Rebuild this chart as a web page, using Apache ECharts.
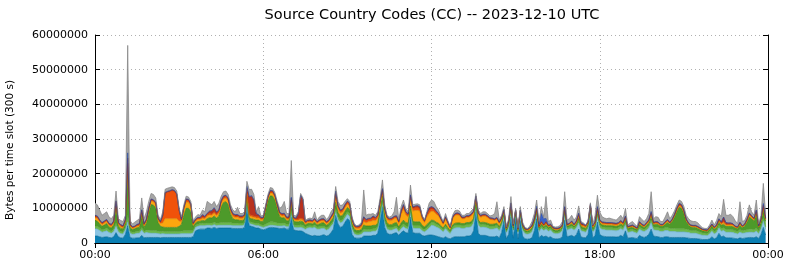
<!DOCTYPE html>
<html><head><meta charset="utf-8">
<script src="https://cdn.jsdelivr.net/npm/echarts@6/dist/echarts.min.js"></script>
<style>html,body{margin:0;padding:0;background:#fff}#chart{width:790px;height:267px}</style>
</head><body><div id="chart"></div>
<script>
// time slots of 5 minutes (300 s), values in millions of bytes per slot
const slotMinutes = 5;
const slotsPerTick = 72; // 6 hours
const yTickStep = 10000000;
const yMax = 60000000;

const layerNames = ['CC 1','CC 2','CC 3','CC 4','CC 5','CC 6','CC 7','CC 8','Other'];
const layerColors = ['#0b7fb3','#8cc5e3','#6cb84a','#4d9a2a','#fca60f','#f0520a','#b8321f','#3a62c8','#a6a6a6'];
const layerEdges  = ['#066a96','#6aaed0','#549c36','#3b7f1e','#d98a00','#c84000','#922415','#2a4aa0','#808080'];

const ccDarkBlue = [
2.0,2.0,1.8,1.6,1.7,1.8,1.6,1.5,1.8,3.0,1.8,1.5, 1.4,2.5,5.0,1.6,1.4,1.4,1.5,1.5,2.2,1.5,1.6,1.6,
1.6,1.6,1.6,1.6,1.5,1.6,1.6,1.6,1.6,1.6,1.6,1.6, 1.6,1.6,1.6,1.6,1.6,1.6,1.8,3.5,3.8,4.0,4.0,4.0,
4.3,4.3,4.2,4.5,4.2,4.3,4.3,4.3,4.3,4.3,4.3,4.2, 4.2,4.2,4.2,4.2,4.5,11.0,5.0,4.8,4.6,4.3,4.3,4.0,
3.8,4.0,4.3,4.5,4.5,4.4,4.3,4.2,4.2,4.3,4.0,4.0, 7.5,3.8,3.6,3.5,3.5,3.3,2.8,2.5,2.2,2.0,2.2,2.0,
2.0,2.2,2.4,2.0,2.2,3.0,4.0,8.0,5.5,4.5,4.8,6.0, 7.0,6.5,2.5,1.5,1.4,1.4,1.5,2.0,2.0,2.0,2.0,2.2,
2.2,2.8,6.5,10.5,4.5,2.8,2.5,2.5,2.8,3.0,2.2,3.0, 3.5,3.0,2.8,7.5,3.0,2.8,2.8,2.8,2.2,2.0,2.2,2.3,
2.3,2.2,2.0,1.8,1.6,1.4,1.8,1.4,1.2,1.6,1.8,1.8, 1.8,1.8,1.8,2.0,2.0,2.2,3.5,9.0,2.8,2.2,2.2,2.2,
2.0,1.8,1.8,1.8,2.0,1.5,3.0,6.5,1.2,2.5,7.5,1.4, 7.0,1.2,6.5,2.0,1.2,1.1,1.2,1.5,3.5,7.0,1.5,2.2,
1.8,2.0,1.6,1.8,1.3,1.2,1.2,1.3,1.8,6.6,1.8,2.0, 2.2,1.8,2.4,4.0,1.7,1.6,1.5,2.5,7.6,1.5,2.2,6.0,
2.5,2.0,1.9,1.8,1.8,1.8,1.8,1.7,1.8,2.2,1.8,3.5, 1.4,1.5,1.6,1.4,1.3,2.2,1.8,1.6,1.9,2.5,4.0,2.0,
1.9,1.8,1.6,1.6,1.8,1.8,1.6,1.6,1.6,1.6,1.6,1.6, 1.6,1.5,1.4,1.3,1.3,1.3,1.2,1.1,1.0,1.0,1.0,1.2,
1.8,1.2,1.5,2.8,1.8,2.0,1.5,1.5,1.5,1.4,1.3,1.2, 1.5,1.3,1.4,1.5,1.6,1.6,1.5,1.8,1.3,2.5,4.5,2.3];

const ccLightBlue = [
2.2,2.0,1.8,1.5,1.6,1.7,1.4,1.3,1.5,1.8,1.4,1.2, 1.2,1.3,1.0,1.2,1.1,1.2,1.3,1.3,1.5,1.3,1.4,1.3,
1.2,1.2,1.2,1.1,1.1,1.1,1.0,1.0,1.0,1.0,1.0,1.0, 1.0,1.1,1.1,1.1,1.1,1.1,1.1,1.0,1.0,1.0,1.0,1.0,
0.8,0.8,0.8,0.8,0.8,0.8,0.8,0.8,0.8,0.8,0.8,0.8, 0.8,0.8,0.8,0.8,0.8,0.5,0.6,0.6,0.6,0.7,0.7,0.7,
0.7,0.7,0.6,0.6,0.6,0.6,0.6,0.7,0.7,0.7,0.7,0.7, 0.7,0.8,0.8,0.9,1.0,1.0,1.1,1.8,2.2,2.3,2.3,2.0,
2.0,2.0,1.8,1.7,1.8,1.8,1.6,1.0,1.2,1.3,1.3,1.2, 1.2,1.2,1.5,1.0,0.9,0.9,1.0,1.2,1.2,1.2,1.2,1.2,
1.2,1.2,1.2,1.0,1.2,1.2,1.2,1.2,1.2,1.2,1.0,1.1, 1.2,1.2,1.2,1.2,1.3,1.4,1.4,1.4,1.3,1.2,1.5,2.0,
2.8,2.8,2.6,2.5,2.2,1.8,2.3,1.9,1.5,2.3,2.5,2.6, 2.6,2.4,2.4,2.5,2.5,2.5,2.2,1.2,2.4,2.3,2.4,2.3,
2.3,2.2,2.2,2.3,2.3,2.0,1.8,1.0,1.6,1.8,1.5,1.8, 1.0,1.5,1.2,1.6,1.5,1.4,1.5,1.7,1.6,1.2,1.7,2.0,
1.8,2.0,1.8,1.9,1.6,1.5,1.5,1.6,1.8,1.5,1.9,2.0, 2.0,1.9,1.9,1.8,1.8,1.7,1.6,1.6,1.2,1.6,1.8,1.5,
1.9,1.9,1.9,1.9,1.9,1.9,1.8,1.8,1.9,1.9,1.9,1.8, 1.6,1.7,1.7,1.6,1.5,1.8,1.7,1.7,1.8,1.8,1.9,1.8,
1.8,1.8,1.7,1.7,1.8,1.8,1.7,1.7,1.7,1.6,1.6,1.6, 1.6,1.6,1.6,1.5,1.5,1.5,1.4,1.3,1.2,1.2,1.1,1.4,
1.6,1.4,1.5,1.5,1.6,1.6,1.6,1.6,1.6,1.6,1.5,1.4, 1.6,1.5,1.5,1.5,1.5,1.5,1.5,1.6,1.4,1.5,1.8,1.6];

const ccLightGreen = [
0.8,0.8,0.7,0.7,0.7,0.8,0.7,0.6,0.7,1.0,0.7,0.6, 0.6,0.7,2.0,0.6,0.6,0.6,0.6,0.6,0.8,0.6,0.7,0.8,
0.8,0.8,0.8,0.7,0.7,0.7,0.7,0.7,0.7,0.7,0.7,0.7, 0.7,0.7,0.8,0.8,0.8,0.8,0.7,0.6,0.6,0.6,0.7,0.6,
0.7,0.7,0.7,0.7,0.7,0.7,0.8,0.8,0.8,0.8,0.8,0.7, 0.7,0.7,0.6,0.6,0.6,0.5,0.6,0.6,0.6,0.6,0.6,0.6,
0.6,0.8,0.9,1.0,1.0,1.0,0.9,0.8,0.8,0.8,0.7,0.7, 1.0,0.7,0.7,0.7,0.8,0.8,0.6,0.6,0.6,0.6,0.7,0.6,
0.7,0.7,0.7,0.6,0.7,0.7,0.7,0.8,0.8,0.7,0.7,0.8, 0.8,0.8,0.7,0.6,0.6,0.6,0.6,0.8,0.7,0.7,0.7,0.7,
0.7,0.7,0.8,0.8,0.8,0.7,0.7,0.7,0.7,0.7,0.6,0.7, 0.8,0.7,0.7,0.8,0.8,0.8,0.8,0.8,0.7,0.6,0.7,0.8,
0.9,0.9,0.8,0.8,0.7,0.6,0.7,0.6,0.5,0.7,0.8,0.8, 0.8,0.8,0.8,0.8,0.8,0.8,0.8,0.8,0.8,0.8,0.8,0.8,
0.8,0.8,0.8,0.8,0.8,0.7,0.7,0.6,0.5,0.6,0.7,0.6, 0.5,0.5,0.6,0.6,0.5,0.5,0.5,0.6,0.6,0.6,0.6,0.7,
0.6,0.7,0.6,0.6,0.5,0.5,0.5,0.5,0.6,0.8,0.6,0.6, 0.7,0.6,0.6,0.7,0.6,0.6,0.5,0.6,0.8,0.5,0.6,0.8,
0.7,0.7,0.7,0.7,0.7,0.7,0.7,0.7,0.7,0.7,0.7,0.7, 0.6,0.6,0.6,0.6,0.5,0.7,0.7,0.6,0.7,0.7,0.8,0.7,
0.9,0.9,0.8,0.8,0.9,0.9,0.9,0.9,0.9,0.9,0.9,0.9, 0.9,0.9,0.8,0.8,0.8,0.8,0.8,0.7,0.7,0.6,0.6,0.7,
0.7,0.7,0.7,0.8,0.8,0.8,0.8,0.8,0.8,0.8,0.7,0.7, 0.8,0.7,0.8,0.8,0.9,0.9,0.8,0.9,0.7,0.8,1.0,0.8];

const ccDarkGreen = [
1.5,1.5,1.2,1.0,1.2,1.3,0.9,0.9,1.2,4.5,1.0,0.9, 0.8,1.2,12.0,1.0,0.8,0.9,1.0,1.1,3.5,1.1,2.0,5.0,
7.5,7.3,6.5,2.5,1.5,1.2,1.2,1.2,1.2,1.2,1.2,1.2, 1.5,2.0,4.5,6.5,6.5,5.6,1.0,0.7,0.8,0.7,0.8,0.8,
1.2,1.5,1.5,1.8,1.5,2.0,4.5,5.8,6.0,5.2,2.5,1.3, 1.0,1.0,0.9,0.9,0.9,1.2,1.0,1.0,1.0,1.0,1.0,0.9,
1.2,3.8,6.3,7.5,7.4,6.3,4.2,2.0,1.5,1.5,1.0,1.0, 2.0,1.0,1.0,1.0,1.0,1.0,0.7,0.7,0.7,0.6,0.8,0.6,
0.8,0.9,0.9,0.8,0.8,0.9,1.0,2.0,1.3,1.2,1.2,1.2, 1.2,1.2,0.9,0.8,0.7,0.7,0.8,1.2,1.0,1.0,1.0,1.0,
1.0,1.0,1.2,1.2,1.1,1.0,0.9,0.9,1.0,1.0,0.8,1.0, 1.1,1.0,1.0,1.2,1.1,1.1,1.1,1.1,0.9,0.8,0.9,0.9,
0.6,0.6,0.6,0.6,0.5,0.5,0.6,0.5,0.4,0.6,0.6,0.6, 0.6,0.6,0.6,0.6,0.6,0.6,0.6,0.6,0.6,0.6,0.6,0.6,
0.6,0.6,0.6,0.6,0.6,0.5,0.5,0.5,0.4,0.5,0.6,0.5, 0.4,0.4,0.5,0.5,0.4,0.4,0.5,0.5,0.5,0.5,0.5,0.5,
0.5,0.6,0.5,0.5,0.5,0.5,0.5,0.5,0.5,0.7,0.5,0.5, 0.6,0.5,0.6,0.8,0.6,0.6,0.6,0.6,0.7,0.6,0.6,0.8,
0.7,0.6,0.6,0.6,0.6,0.6,0.6,0.6,0.6,0.7,0.6,0.8, 0.6,0.6,0.6,0.6,0.5,0.7,0.6,0.6,0.7,0.8,1.0,0.7,
0.8,0.8,0.7,0.7,0.9,1.5,1.2,2.0,3.3,5.0,6.2,5.9, 4.5,2.2,1.4,1.0,0.9,0.9,0.8,0.7,0.6,0.6,0.6,0.7,
0.8,0.7,0.8,0.9,0.9,1.0,0.9,0.9,0.9,0.9,0.8,0.8, 1.2,0.9,1.2,2.2,3.5,3.0,2.5,4.0,1.0,1.3,2.2,1.6];

const ccAmber = [
0.8,0.8,0.6,0.5,0.6,0.6,0.5,0.5,0.6,1.0,0.5,0.5, 0.4,0.5,2.0,0.5,0.4,0.4,0.4,0.5,0.8,0.5,0.6,0.8,
1.0,1.0,1.0,0.8,0.8,1.2,2.5,2.5,2.5,2.5,2.5,2.5, 1.5,0.8,1.5,1.8,1.7,1.5,0.6,0.5,0.6,0.5,0.6,0.6,
0.8,0.8,0.8,0.8,0.7,0.8,1.0,1.0,1.0,1.0,0.8,0.7, 0.7,0.7,0.6,0.6,0.6,1.0,0.6,0.6,0.6,0.6,0.6,0.5,
0.5,0.6,0.7,0.8,0.8,0.8,0.7,0.6,0.6,0.6,0.5,0.5, 0.8,0.5,0.5,0.5,0.5,0.5,0.4,0.4,0.4,0.4,0.5,0.4,
0.6,0.6,0.6,0.5,0.5,0.6,0.7,1.5,1.0,0.9,0.9,1.0, 1.0,0.9,0.7,0.6,0.6,0.6,0.7,1.0,0.9,1.2,1.3,1.4,
1.3,1.4,1.4,1.2,1.5,1.1,1.1,1.2,1.3,1.3,1.0,2.5, 3.2,2.2,1.8,2.0,3.0,3.3,3.3,3.1,1.8,1.3,2.2,2.5,
2.6,2.5,2.3,2.1,1.6,1.1,1.6,1.1,0.6,1.7,2.2,2.3, 2.1,1.4,1.4,1.5,1.5,1.7,1.5,1.2,1.6,1.5,1.7,1.8,
1.6,1.4,1.3,1.0,1.2,0.9,0.8,0.6,0.4,0.6,0.8,0.5, 0.4,0.3,0.4,0.4,0.3,0.3,0.4,0.4,0.4,0.4,0.3,0.4,
0.3,0.4,0.3,0.3,0.3,0.3,0.3,0.3,0.3,0.4,0.3,0.3, 0.4,0.3,0.4,0.5,0.4,0.4,0.4,0.4,0.4,0.4,0.4,0.5,
0.4,0.4,0.4,0.4,0.4,0.4,0.4,0.4,0.4,0.4,0.4,0.4, 0.3,0.3,0.3,0.3,0.3,0.3,0.3,0.3,0.3,0.4,0.5,0.3,
0.3,0.3,0.3,0.3,0.3,0.3,0.3,0.3,0.3,0.4,0.4,0.4, 0.4,0.3,0.3,0.3,0.3,0.3,0.3,0.3,0.2,0.2,0.2,0.3,
0.3,0.3,0.3,0.4,0.4,0.5,0.4,0.4,0.4,0.4,0.3,0.3, 0.4,0.3,0.3,0.4,0.5,0.4,0.4,0.5,0.3,0.4,0.6,0.4];

const ccOrange = [
0.4,0.4,0.3,0.3,0.3,0.3,0.3,0.3,0.3,0.5,0.3,0.3, 0.3,0.3,1.0,0.3,0.2,0.2,0.3,0.3,0.4,0.3,0.3,0.3,
0.3,0.3,0.3,0.3,0.3,2.0,7.3,7.6,7.8,8.1,7.9,6.9, 3.0,0.4,0.5,0.6,0.6,0.5,0.3,0.3,0.3,0.3,0.4,0.3,
0.4,0.4,0.4,0.4,0.4,0.4,0.5,0.5,0.5,0.5,0.4,0.4, 0.4,0.4,0.4,0.4,0.4,0.6,0.4,0.4,0.4,0.4,0.4,0.3,
0.3,0.3,0.3,0.4,0.4,0.4,0.3,0.3,0.3,0.3,0.3,0.3, 0.4,0.3,0.3,0.3,0.4,0.4,0.3,0.3,0.3,0.3,0.3,0.3,
0.3,0.3,0.3,0.3,0.3,0.4,0.4,1.0,0.6,0.5,0.5,0.5, 0.5,0.5,0.4,0.3,0.3,0.4,0.4,0.8,0.6,0.6,0.6,0.7,
0.6,0.6,0.6,0.6,0.6,0.4,0.4,0.4,0.4,0.4,0.4,0.6, 0.8,0.6,0.5,0.7,0.7,0.8,0.8,0.8,0.5,0.3,0.6,0.8,
0.6,0.6,0.5,0.4,0.3,0.2,0.3,0.3,0.2,0.3,0.3,0.3, 0.3,0.2,0.2,0.2,0.2,0.3,0.3,0.4,0.3,0.3,0.3,0.3,
0.3,0.2,0.2,0.2,0.2,0.2,0.2,0.2,0.1,0.2,0.2,0.1, 0.1,0.1,0.1,0.1,0.1,0.1,0.1,0.2,0.2,0.2,0.1,0.2,
0.1,0.2,0.1,0.1,0.1,0.1,0.1,0.1,0.1,0.2,0.1,0.1, 0.2,0.1,0.2,0.3,0.2,0.2,0.2,0.2,0.2,0.2,0.2,0.3,
0.2,0.2,0.2,0.2,0.2,0.2,0.2,0.2,0.2,0.2,0.2,0.2, 0.1,0.1,0.1,0.1,0.1,0.2,0.1,0.1,0.2,0.2,0.3,0.2,
0.2,0.2,0.1,0.1,0.2,0.2,0.1,0.2,0.2,0.3,0.3,0.3, 0.2,0.2,0.1,0.1,0.1,0.1,0.1,0.1,0.1,0.1,0.1,0.1,
0.1,0.1,0.2,0.2,0.2,0.3,0.2,0.2,0.2,0.2,0.1,0.1, 0.2,0.1,0.1,0.2,0.3,0.2,0.2,0.3,0.1,0.2,0.5,0.2];

const ccDarkRed = [
0.2,0.2,0.2,0.2,0.2,0.2,0.2,0.2,0.2,0.3,0.2,0.2, 0.2,0.2,1.5,0.2,0.1,0.1,0.2,0.2,0.3,0.2,0.2,0.2,
0.2,0.2,0.2,0.2,0.2,0.2,0.2,0.2,0.2,0.2,0.2,0.2, 0.2,0.2,0.2,0.2,0.2,0.2,0.2,0.2,0.2,0.2,0.6,0.3,
0.3,0.6,0.8,1.0,0.6,0.4,0.3,0.3,0.3,0.3,0.3,0.3, 0.3,0.3,0.2,0.2,0.3,1.0,5.0,5.5,4.5,0.8,0.5,0.3,
0.2,0.2,0.2,0.3,0.3,0.3,0.2,0.2,0.3,0.3,0.2,0.2, 0.5,0.2,0.2,1.5,6.5,5.5,0.2,0.2,0.2,0.2,0.2,0.2,
0.2,0.2,0.2,0.2,0.2,0.2,0.3,0.5,0.3,0.3,0.3,0.3, 0.3,0.3,0.2,0.2,0.2,0.2,0.3,0.5,0.3,0.3,0.3,0.5,
0.3,0.3,0.3,0.3,0.3,0.2,0.2,0.2,0.2,0.2,0.2,0.3, 0.4,0.3,0.3,0.4,0.4,0.4,0.5,0.4,0.3,0.2,0.4,0.8,
0.6,0.5,0.4,0.3,0.2,0.2,0.2,0.2,0.1,0.2,0.2,0.2, 0.2,0.2,0.2,0.2,0.2,0.2,0.2,0.3,0.2,0.2,0.2,0.2,
0.2,0.2,0.2,0.2,0.2,0.2,0.2,0.2,0.1,0.1,0.2,0.1, 0.1,0.1,0.1,0.1,0.1,0.1,0.1,0.1,0.1,0.2,0.1,0.2,
0.1,0.2,0.1,0.1,0.1,0.1,0.1,0.1,0.1,0.2,0.1,0.1, 0.2,0.1,0.2,0.4,0.3,0.3,0.2,0.2,0.2,0.2,0.2,0.3,
0.2,0.2,0.2,0.2,0.2,0.2,0.2,0.2,0.2,0.3,0.2,0.3, 0.1,0.1,0.2,0.1,0.1,0.2,0.2,0.1,0.2,0.2,0.3,0.2,
0.2,0.2,0.1,0.1,0.2,0.2,0.1,0.1,0.2,0.2,0.3,0.3, 0.2,0.2,0.1,0.1,0.1,0.1,0.1,0.1,0.1,0.1,0.1,0.1,
0.1,0.1,0.2,0.3,0.3,1.2,0.4,0.3,0.3,0.2,0.1,0.1, 0.2,0.1,0.1,0.2,0.3,0.2,0.2,0.3,0.1,0.2,0.4,0.2];

const ccBlue = [
0.1,0.1,0.1,0.1,0.1,0.1,0.1,0.1,0.1,0.1,0.1,0.1, 0.1,0.1,1.5,0.1,0.1,0.1,0.1,0.1,0.1,0.1,0.1,0.1,
0.1,0.1,0.1,0.1,0.1,0.1,0.1,0.1,0.1,0.1,0.1,0.1, 0.1,0.1,0.1,0.1,0.1,0.1,0.1,0.1,0.1,0.1,0.1,0.1,
0.1,0.1,0.2,0.2,0.1,0.1,0.1,0.1,0.1,0.1,0.1,0.1, 0.1,0.1,0.1,0.1,0.1,0.5,0.2,0.2,0.2,0.1,0.1,0.1,
0.1,0.1,0.1,0.1,0.1,0.1,0.1,0.1,0.1,0.1,0.1,0.1, 0.3,0.1,0.1,0.1,0.1,0.1,0.1,0.1,0.1,0.1,0.1,0.1,
0.1,0.1,0.1,0.1,0.1,0.1,0.1,0.2,0.1,0.1,0.1,0.1, 0.1,0.1,0.1,0.1,0.1,0.1,0.1,0.1,0.1,0.1,0.1,0.1,
0.1,0.1,0.1,0.1,0.1,0.1,0.1,0.1,0.1,0.1,0.1,0.1, 0.1,0.1,0.1,0.1,0.1,0.1,0.1,0.1,0.1,0.1,0.1,0.1,
0.1,0.1,0.1,0.1,0.1,0.1,0.1,0.1,0.1,0.1,0.1,0.1, 0.1,0.1,0.1,0.1,0.1,0.1,0.1,0.1,0.1,0.1,0.1,0.1,
0.1,0.1,0.1,0.1,0.1,0.1,0.1,0.1,0.1,0.1,0.1,0.1, 0.1,0.1,0.1,0.1,0.1,0.1,0.1,0.2,0.3,0.5,0.8,2.3,
1.8,1.0,0.3,0.2,0.1,0.1,0.1,0.1,0.1,0.1,0.1,0.1, 0.1,0.1,0.1,0.1,0.1,0.1,0.1,0.1,0.1,0.1,0.1,0.3,
0.1,0.1,0.1,0.1,0.1,0.1,0.1,0.1,0.1,0.1,0.1,0.1, 0.1,0.1,0.1,0.1,0.1,0.1,0.1,0.1,0.1,0.1,0.3,0.1,
0.1,0.1,0.1,0.1,0.1,0.1,0.1,0.1,0.1,0.1,0.2,0.1, 0.1,0.1,0.1,0.1,0.1,0.1,0.1,0.1,0.1,0.1,0.1,0.1,
0.1,0.1,0.1,0.1,0.1,0.1,0.1,0.1,0.1,0.1,0.1,0.1, 0.1,0.1,0.1,0.1,0.1,0.1,0.1,0.1,0.1,0.1,0.4,0.1];

const ccOther = [
3.5,3.2,2.8,2.1,2.1,2.2,1.8,1.6,1.6,2.8,1.0,1.2, 1.2,1.2,31.0,1.0,0.8,1.1,1.1,1.4,3.4,1.4,2.1,1.9,
1.6,1.5,1.3,0.7,0.6,0.9,0.9,0.9,0.9,0.8,0.8,0.8, 0.4,0.6,0.7,0.8,0.7,0.6,0.4,0.6,0.8,0.6,1.3,1.3,
3.4,2.3,1.6,1.8,1.5,2.0,1.2,1.2,1.2,1.0,1.0,1.0, 0.8,2.1,0.7,0.7,0.8,1.5,2.0,1.8,1.5,0.5,2.3,0.4,
0.6,0.5,0.6,0.8,0.7,0.6,0.7,1.1,2.0,3.4,1.0,1.0, 10.6,0.6,0.6,0.5,0.5,0.4,0.3,0.4,0.5,0.5,1.9,0.3,
0.8,1.0,1.0,0.6,0.9,1.3,1.2,1.3,1.2,1.3,1.2,0.9, 0.7,0.5,0.5,0.4,0.2,0.3,0.6,7.7,1.2,1.2,1.1,0.7,
0.6,0.9,0.9,2.5,0.9,0.5,0.4,0.6,1.3,5.3,0.5,1.2, 1.3,0.9,0.6,2.8,0.6,0.5,0.5,0.5,0.2,0.1,0.4,1.3,
1.9,1.8,1.2,0.9,0.6,0.3,0.9,0.4,0.2,0.5,0.8,0.8, 0.7,0.5,0.5,0.6,0.6,0.8,0.8,0.7,0.7,0.5,0.7,0.7,
0.6,0.5,0.8,1.5,4.5,0.5,0.7,0.8,0.3,0.6,1.8,0.4, 0.4,0.2,1.0,0.6,0.3,0.2,0.4,1.0,1.3,1.8,0.6,2.0,
0.6,6.3,0.9,1.1,0.3,0.3,0.4,0.5,0.9,4.3,1.2,1.3, 1.6,1.2,1.1,2.1,0.5,0.3,0.1,0.3,0.4,0.1,1.9,3.3,
2.3,1.5,1.2,1.1,1.3,1.1,1.0,0.9,1.3,1.5,1.1,2.2, 0.4,0.8,1.0,0.6,0.4,1.4,1.3,1.1,1.1,1.8,5.7,1.0,
1.4,1.3,0.8,0.8,1.3,2.2,1.0,1.1,1.0,0.9,0.9,0.9, 1.0,1.0,1.2,1.2,1.1,1.1,1.0,0.6,0.4,0.3,0.4,0.6,
1.1,0.6,1.2,1.5,1.5,5.1,2.1,2.2,2.5,2.0,1.5,0.9, 5.9,1.2,1.0,1.1,2.3,1.1,0.8,2.9,0.5,1.0,5.8,1.3];

const layers = [ccDarkBlue, ccLightBlue, ccLightGreen, ccDarkGreen, ccAmber, ccOrange, ccDarkRed, ccBlue, ccOther];

// category axis: one entry per slot start, plus the closing 24:00 boundary
const pad = n => (n < 10 ? '0' : '') + n;
const slotCount = ccDarkBlue.length;
const slotLabels = [];
for (let i = 0; i <= slotCount; i++) {
  const m = (i * slotMinutes) % 1440;
  slotLabels.push(pad(Math.floor(m / 60)) + ':' + pad(m % 60));
}
const isTick = idx => idx % slotsPerTick === 0;

const FONT = 'DejaVu Sans';
const chart = echarts.init(document.getElementById('chart'), null, {renderer: 'canvas'});

const series = layers.map((arr, k) => ({
  name: layerNames[k],
  type: 'line',
  stack: 'total',
  symbol: 'none',
  showSymbol: false,
  smooth: false,
  silent: true,
  animation: false,
  lineStyle: {width: 0.7, color: layerEdges[k]},
  areaStyle: {color: layerColors[k], opacity: 1},
  itemStyle: {color: layerColors[k]},
  data: arr.map(v => v * 1e6)
}));

const xBase = {
  type: 'category', data: slotLabels, boundaryGap: false,
  axisLine: {show: true, lineStyle: {color: '#000', width: 1}},
  axisTick: {show: true, inside: true, length: 5, interval: isTick, lineStyle: {color: '#000'}}
};
const yBase = {
  type: 'value', min: 0, max: yMax, interval: yTickStep,
  axisLine: {show: true, lineStyle: {color: '#000', width: 1}},
  axisTick: {show: true, inside: true, length: 5, lineStyle: {color: '#000'}}
};

chart.setOption({
  animation: false,
  backgroundColor: '#fff',
  title: {
    text: 'Source Country Codes (CC) -- 2023-12-10 UTC',
    left: 427, top: 3, textAlign: 'center',
    textStyle: {fontFamily: FONT, fontSize: 14.5, fontWeight: 'normal', color: '#000'}
  },
  graphic: [{
    type: 'text', left: 5, top: 80, silent: true,
    rotation: Math.PI / 2,
    style: {text: 'Bytes per time slot (300 s)', font: '10.5px "DejaVu Sans"', fill: '#000'}
  }],
  grid: {left: 95, right: 22, top: 35, bottom: 24, containLabel: false},
  xAxis: [
    Object.assign({}, xBase, {
      position: 'bottom',
      axisLabel: {fontFamily: FONT, fontSize: 11, color: '#000', margin: 7, interval: isTick},
      splitLine: {show: true, interval: isTick, lineStyle: {color: '#b0b0b0', type: [1, 3], width: 1}}
    }),
    Object.assign({}, xBase, {
      position: 'top', axisLabel: {show: false}, splitLine: {show: false}
    })
  ],
  yAxis: [
    Object.assign({}, yBase, {
      position: 'left',
      axisLabel: {fontFamily: FONT, fontSize: 11, color: '#000', margin: 7,
        formatter: v => String(v)},
      splitLine: {show: true, lineStyle: {color: '#b0b0b0', type: [1, 3], width: 1}}
    }),
    Object.assign({}, yBase, {
      position: 'right', axisLabel: {show: false}, splitLine: {show: false}
    })
  ],
  series: series
});
</script>
</body></html>
